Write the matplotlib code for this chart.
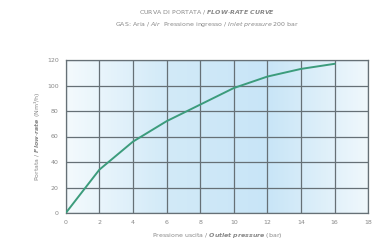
import matplotlib
matplotlib.use("Agg")
import matplotlib.pyplot as plt
import numpy as np
from matplotlib.colors import LinearSegmentedColormap

# outlet pressure (bar) vs flow-rate (Nm3/h)
pressure = [0, 2, 4, 6, 8, 10, 12, 14, 16]
flow_rate = [0, 34, 56, 72, 85, 98, 107, 113, 117]
x_ticks = [0, 2, 4, 6, 8, 10, 12, 14, 16, 18]
y_ticks = [0, 20, 40, 60, 80, 100, 120]

fig = plt.figure(figsize=(3.76, 2.5), dpi=100)
ax = fig.add_axes([0.175, 0.148, 0.804, 0.612])

# light blue horizontal gradient in the background
cmap = LinearSegmentedColormap.from_list(
    "bg", ["#f4fafd", "#d2eaf8", "#c8e5f7", "#f0f8fc"])
grad = np.linspace(0, 1, 256).reshape(1, -1)
ax.imshow(grad, extent=[0, 18, 0, 120], aspect="auto", cmap=cmap,
          zorder=0, interpolation="bicubic")

ax.plot(pressure, flow_rate, color="#3c9c7c", linewidth=1.4, zorder=3)

ax.set_xlim(0, 18)
ax.set_ylim(0, 120)
ax.set_xticks(x_ticks)
ax.set_yticks(y_ticks)
ax.grid(True, color="#667076", linewidth=0.9, zorder=2)
ax.set_axisbelow(False)
for s in ax.spines.values():
    s.set_color("#667076")
    s.set_linewidth(0.9)
ax.tick_params(length=0, labelsize=4.5, labelcolor="#888888", pad=5)

ax.set_xlabel("Pressione uscita / $\\mathbfit{Outlet\\ pressure}$ (bar)",
              fontsize=4.5, color="#888888", labelpad=4)
ax.set_ylabel("Portata / $\\mathbfit{Flow\\text{-}rate}$ (Nm³/h)",
              fontsize=4.5, color="#888888", labelpad=4)

fig.text(0.55, 0.952, "CURVA DI PORTATA / $\\mathbfit{FLOW\\text{-}RATE\\ CURVE}$",
         ha="center", va="center", fontsize=4.5, color="#888888")
fig.text(0.55, 0.903,
         "GAS: Aria / $\\mathit{Air}$  Pressione ingresso / $\\mathit{Inlet\\ pressure}$ 200 bar",
         ha="center", va="center", fontsize=4.5, color="#888888")

fig.savefig("out.png", dpi=100)
